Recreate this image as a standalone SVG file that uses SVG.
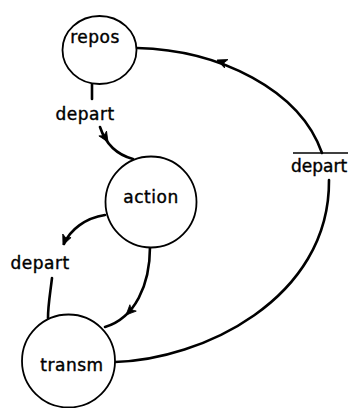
<svg xmlns="http://www.w3.org/2000/svg" xmlns:xlink="http://www.w3.org/1999/xlink" width="348" height="408" viewBox="0 0 348 408">
<style>
.state{fill:#fff;stroke:#000;stroke-width:1.8}
.lbl{font-family:"DejaVu Sans",sans-serif;font-size:17px;fill:#000;stroke:#000;stroke-width:0.4;letter-spacing:0.5px}
.mid{text-anchor:middle}
.tight{letter-spacing:0}
.edge{fill:none;stroke:#000;stroke-width:2.6;stroke-linecap:round}
.bar{stroke:#000;stroke-width:1.6}
.ah{fill:#000;stroke:#000;stroke-width:0.8}
</style>
<defs>
<path id="arrowhead" d="M0,0 L-10,-4.5 L-7.5,0 L-10,4.5 Z"/>
</defs>
<rect width="348" height="408" fill="#fff"/>
<g id="connectors">
<path class="edge" d="M92,84 L92,99"/>
<path class="edge" d="M100,127 C106,145 118,155 133,159"/>
<path class="edge" d="M150,247 C150,285 135,318 105,327"/>
<path class="edge" d="M105,215 C85,218 70,230 64,244"/>
<path class="edge" d="M52,278 C50,295 48,305 48,318"/>
<path class="edge" d="M115,362 C200,360 330,300 329,180"/>
<path class="edge" d="M322,153 C300,90 220,50 137,48"/>
<line class="bar" x1="293" y1="153" x2="348" y2="153"/>
<use class="ah" xlink:href="#arrowhead" transform="translate(217,60) rotate(202)"/>
<use class="ah" xlink:href="#arrowhead" transform="translate(108,142) rotate(58)"/>
<use class="ah" xlink:href="#arrowhead" transform="translate(126,315) rotate(135)"/>
<use class="ah" xlink:href="#arrowhead" transform="translate(63,245) rotate(113)"/>
</g>
<g id="repos">
<ellipse class="state" cx="99.5" cy="50" rx="37" ry="34"/>
<text class="lbl mid" x="95" y="43">repos</text>
</g>
<g id="action">
<circle class="state" cx="151" cy="202" r="45.5"/>
<text class="lbl mid" x="151" y="203">action</text>
</g>
<g id="transm">
<circle class="state" cx="68.5" cy="361" r="46.5"/>
<text class="lbl mid" x="72" y="371">transm</text>
</g>
<g id="depart1">
<text class="lbl mid" x="85" y="120">depart</text>
</g>
<g id="depart2">
<text class="lbl mid" x="40" y="269">depart</text>
</g>
<g id="depart3">
<text class="lbl tight" x="291" y="172">depart</text>
</g>
</svg>
